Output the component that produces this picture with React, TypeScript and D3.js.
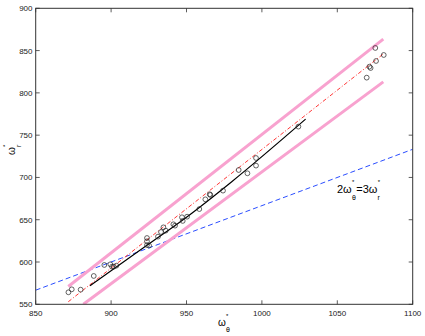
import React, { useEffect, useRef } from 'react';
import * as d3 from 'd3';

// measured points (omega_theta*, omega_r*)
const thetaVals = [871.7, 873.9, 879.8, 888.5, 895.5, 899.5, 900.6, 901.7, 903.5, 923.8, 923.8, 923.8, 925.2, 931.1, 933.1, 934.7, 936.2, 941.3, 942.4, 947.0, 947.5, 950.4, 958.5, 962.5, 965.4, 965.8, 974.2, 984.6, 990.4, 996.1, 996.1, 1024.2, 1069.5, 1071.3, 1072.1, 1075.7, 1075.2, 1080.8];
const rVals = [564.2, 567.7, 567.3, 583.5, 596.5, 597.3, 594.5, 594.5, 595.7, 628.4, 624.5, 620.1, 619.4, 630.0, 635.5, 641.0, 637.1, 644.6, 643.0, 652.9, 648.6, 653.6, 662.6, 674.1, 680.1, 679.3, 684.4, 708.8, 704.9, 723.0, 714.0, 760.1, 818.0, 831.0, 829.4, 837.7, 853.1, 844.8];

// fitted curve (black)
const fitTheta = [886, 924, 950, 980, 1029];
const fitR = [572, 620, 653, 695, 769];

// linear trend (red dash-dot)
const trendTheta = [871.6, 1080.5];
const trendR = [553, 846];

// bounds (pink)
const upperTheta = [871.6, 1080.5];
const upperR = [571, 863.5];
const lowerTheta = [881.6, 1080.5];
const lowerR = [550, 813];

// resonance line 2w_theta = 3w_r (blue dashed)
const resTheta = [850, 1100];
const resR = [566.7, 733.3];

const xTicks = [850, 900, 950, 1000, 1050, 1100];
const yTicks = [550, 600, 650, 700, 750, 800, 850, 900];

const App = () => {
    const ref = useRef<SVGSVGElement>(null);

    const width = 425;
    const height = 336;
    const plot_x0 = 35.7;
    const plot_x1 = 412.7;
    const plot_y0 = 8.3;
    const plot_y1 = 304.3;
    const tick_len = 4;
    const font = 'Liberation Sans, Arial, Helvetica, sans-serif';

    useEffect(() => {
        const svg = d3.select(ref.current);
        svg.selectAll('*').remove();

        const xScale = d3.scaleLinear().domain([850, 1100]).range([plot_x0, plot_x1]);
        const yScale = d3.scaleLinear().domain([550, 900]).range([plot_y1, plot_y0]);

        svg.append('defs').append('clipPath').attr('id', 'plotClip')
            .append('rect')
            .attr('x', plot_x0).attr('y', plot_y0)
            .attr('width', plot_x1 - plot_x0).attr('height', plot_y1 - plot_y0);

        const plot = svg.append('g').attr('clip-path', 'url(#plotClip)');

        const line = d3.line<[number, number]>()
            .x(d => xScale(d[0]))
            .y(d => yScale(d[1]));

        const zip = (a: number[], b: number[]) => a.map((v, i) => [v, b[i]] as [number, number]);

        // blue dashed
        plot.append('path')
            .attr('d', line(zip(resTheta, resR)))
            .attr('fill', 'none')
            .attr('stroke', '#2a4dff')
            .attr('stroke-width', 1)
            .attr('stroke-dasharray', '5,3');

        // pink bounds
        [[upperTheta, upperR], [lowerTheta, lowerR]].forEach(([t, r]) => {
            plot.append('path')
                .attr('d', line(zip(t, r)))
                .attr('fill', 'none')
                .attr('stroke', '#f8a2cf')
                .attr('stroke-width', 3);
        });

        // red dash-dot
        plot.append('path')
            .attr('d', line(zip(trendTheta, trendR)))
            .attr('fill', 'none')
            .attr('stroke', '#ff2020')
            .attr('stroke-width', 0.9)
            .attr('stroke-dasharray', '4,2,1,2');

        // black fit
        plot.append('path')
            .attr('d', d3.line<[number, number]>()
                .x(d => xScale(d[0]))
                .y(d => yScale(d[1]))
                .curve(d3.curveMonotoneX)(zip(fitTheta, fitR)))
            .attr('fill', 'none')
            .attr('stroke', '#000')
            .attr('stroke-width', 1.2);

        // circles
        plot.selectAll('.pt')
            .data(zip(thetaVals, rVals))
            .enter().append('circle')
            .attr('class', 'pt')
            .attr('cx', d => xScale(d[0]))
            .attr('cy', d => yScale(d[1]))
            .attr('r', 2.4)
            .attr('fill', 'none')
            .attr('stroke', '#222')
            .attr('stroke-width', 0.7);

        // axes box
        svg.append('rect')
            .attr('x', plot_x0).attr('y', plot_y0)
            .attr('width', plot_x1 - plot_x0).attr('height', plot_y1 - plot_y0)
            .attr('fill', 'none')
            .attr('stroke', '#333')
            .attr('stroke-width', 1);

        const axisG = svg.append('g').attr('stroke', '#333').attr('stroke-width', 0.8);
        xTicks.forEach(t => {
            const x = xScale(t);
            axisG.append('line').attr('x1', x).attr('x2', x).attr('y1', plot_y1).attr('y2', plot_y1 - tick_len);
            axisG.append('line').attr('x1', x).attr('x2', x).attr('y1', plot_y0).attr('y2', plot_y0 + tick_len);
        });
        yTicks.forEach(t => {
            const y = yScale(t);
            axisG.append('line').attr('x1', plot_x0).attr('x2', plot_x0 + tick_len).attr('y1', y).attr('y2', y);
            axisG.append('line').attr('x1', plot_x1).attr('x2', plot_x1 - tick_len).attr('y1', y).attr('y2', y);
        });

        svg.selectAll('.xlab')
            .data(xTicks)
            .enter().append('text')
            .attr('x', d => xScale(d))
            .attr('y', 316)
            .attr('text-anchor', 'middle')
            .style('font-family', font)
            .style('font-size', '8px')
            .attr('fill', '#222')
            .text(d => d);

        svg.selectAll('.ylab')
            .data(yTicks)
            .enter().append('text')
            .attr('x', 32.5)
            .attr('y', d => yScale(d) + 3)
            .attr('text-anchor', 'end')
            .style('font-family', font)
            .style('font-size', '8px')
            .attr('fill', '#222')
            .text(d => d);

        // omega symbol with star above and subscript below
        const omega = (x: number, y: number, lead: string, sub: string, size: number, rotate = false) => {
            const g = svg.append('g')
                .attr('transform', rotate ? `translate(${x},${y}) rotate(-90)` : `translate(${x},${y})`)
                .style('font-family', font)
                .attr('fill', '#000');
            const main = g.append('text').style('font-size', `${size}px`).text(lead);
            const w = (main.node() as SVGTextElement).getComputedTextLength();
            g.append('text').attr('x', w + 0.3).attr('y', -size * 0.78)
                .style('font-size', '6px').text('*');
            g.append('text').attr('x', w + 0.2).attr('y', size * 0.62)
                .style('font-size', '7px').text(sub);
            return w + 4.5;
        };

        omega(218, 326, 'ω', 'θ', 10);
        omega(15, 155, 'ω', 'r', 10, true);

        // annotation
        const w1 = omega(337, 193, '2ω', 'θ', 11);
        omega(337 + w1, 193, '=3ω', 'r', 11);
    }, []);

    return (
        <svg ref={ref} width={width} height={height}
            style={{ position: 'absolute', left: 0, top: 0, background: '#fff' }} />
    );
};

export default App;
